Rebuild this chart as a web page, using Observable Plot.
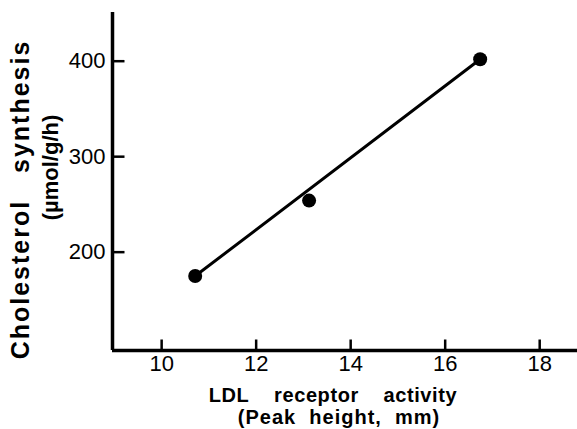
<!DOCTYPE html>
<html>
<head>
<meta charset="utf-8">
<script src="https://cdn.jsdelivr.net/npm/d3@7"></script>
<script src="https://cdn.jsdelivr.net/npm/@observablehq/plot@0.6"></script>
<style>
  html, body { margin: 0; padding: 0; background: #fff; }
</style>
</head>
<body>
<div id="chart"></div>
<script>
// Data
const ldlActivity = [10.71, 13.12, 16.74];        // x: LDL receptor activity (peak height, mm)
const cholSynthesis = [175, 254, 402];            // y: cholesterol synthesis (µmol/g/h)
const fitX = [10.71, 16.74];                      // regression line endpoints (x)
const fitY = [175, 402];                          // regression line endpoints (y)
const xTicks = [10, 12, 14, 16, 18];
const yTicks = [200, 300, 400];
const xDomain = [8.96, 18.8];
const yDomain = [97, 451];
const xTitle = ["LDL\u00a0\u00a0\u00a0\u00a0receptor\u00a0\u00a0\u00a0\u00a0activity", "(Peak\u00a0\u00a0height,\u00a0\u00a0mm)"];
const yTitle = ["Cholesterol\u00a0\u00a0\u00a0synthesis", "(µmol/g/h)"];

const W = 577, H = 429, mT = 12, mL = 112, mR = 0, mB = 79;
// tick lengths in px converted to data units through the linear scales
const xUnit = (xDomain[1] - xDomain[0]) / (W - mL - mR);
const yUnit = (yDomain[1] - yDomain[0]) / (H - mT - mB);

const points = ldlActivity.map((x, i) => ({x, y: cholSynthesis[i]}));
const fit = fitX.map((x, i) => ({x, y: fitY[i]}));
const xTickSegs = xTicks.map(v => ({x1: v, x2: v, y1: yDomain[0], y2: yDomain[0] + 11 * yUnit}));
const yTickSegs = yTicks.map(v => ({y1: v, y2: v, x1: xDomain[0], x2: xDomain[0] + 12 * xUnit}));

const chart = Plot.plot({
  width: W,
  height: H,
  marginTop: mT,
  marginLeft: mL,
  marginRight: mR,
  marginBottom: mB,
  style: {fontFamily: "'Liberation Sans', Arial, sans-serif", background: "#fff", color: "#000"},
  x: {domain: xDomain},
  y: {domain: yDomain},
  marks: [
    Plot.axisX(xTicks, {tickSize: 0, tickPadding: 5, fontSize: 22, label: null}),
    Plot.axisY(yTicks, {tickSize: 0, tickPadding: 7, fontSize: 22, label: null}),
    Plot.link(xTickSegs, {x1: "x1", x2: "x2", y1: "y1", y2: "y2", stroke: "#000", strokeWidth: 2.5}),
    Plot.link(yTickSegs, {x1: "x1", x2: "x2", y1: "y1", y2: "y2", stroke: "#000", strokeWidth: 2.5}),
    Plot.ruleX([xDomain[0]], {strokeWidth: 3.5}),
    Plot.ruleY([yDomain[0]], {strokeWidth: 3.5}),
    Plot.line(fit, {x: "x", y: "y", strokeWidth: 3}),
    Plot.dot(points, {x: "x", y: "y", r: 7, fill: "#000"}),
    Plot.text([xTitle[0]], {frameAnchor: "bottom", textAnchor: "middle", lineAnchor: "middle", dx: -12, dy: 45, fontSize: 20, fontWeight: "bold"}),
    Plot.text([xTitle[1]], {frameAnchor: "bottom", textAnchor: "middle", lineAnchor: "middle", dx: -6, dy: 67, fontSize: 20, fontWeight: "bold"}),
    Plot.text([yTitle[0]], {frameAnchor: "left", textAnchor: "middle", lineAnchor: "middle", rotate: -90, dx: -92, dy: 18, fontSize: 25, fontWeight: "bold"}),
    Plot.text([yTitle[1]], {frameAnchor: "left", textAnchor: "middle", lineAnchor: "middle", rotate: -90, dx: -62, dy: -14, fontSize: 22, fontWeight: "bold"})
  ]
});
chart.querySelectorAll("text").forEach(t => {
  const s = t.textContent;
  if (s.startsWith("Cholesterol")) t.style.letterSpacing = "2px";
  if (s.startsWith("LDL")) t.style.letterSpacing = "0.6px";
  if (s.startsWith("(Peak")) t.style.letterSpacing = "1px";
});
document.getElementById("chart").appendChild(chart);
</script>
</body>
</html>
